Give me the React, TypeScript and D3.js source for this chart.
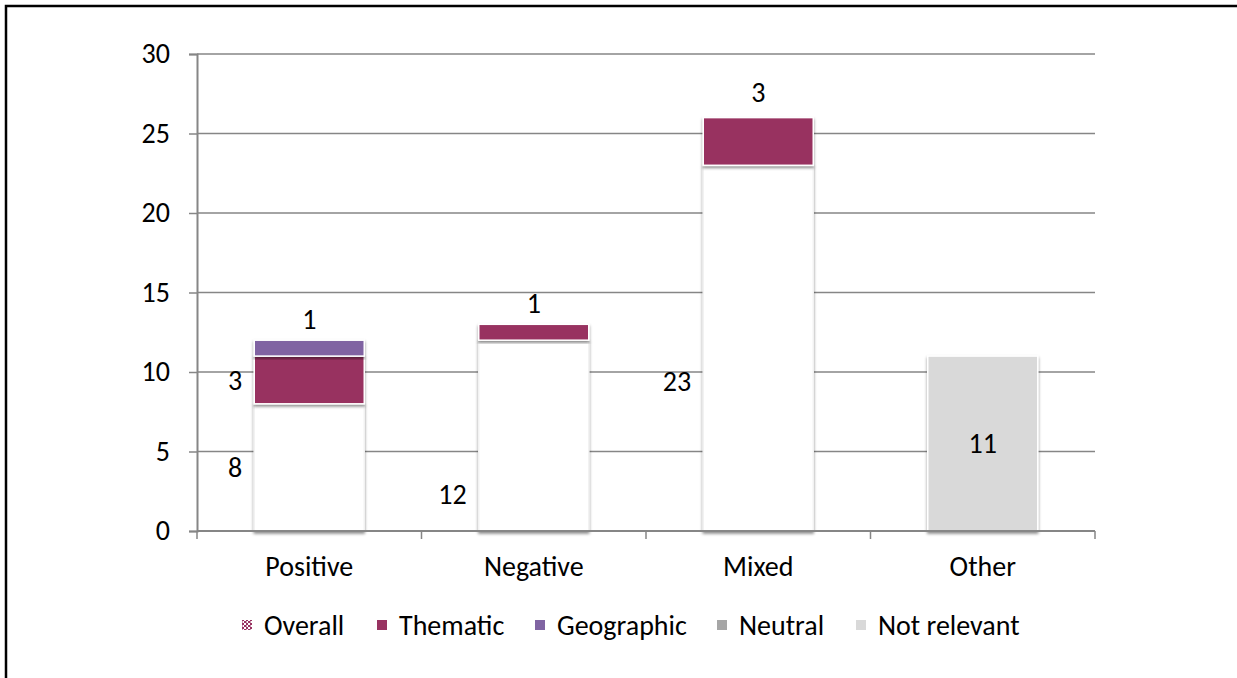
import React, { useEffect, useRef } from 'react';
import * as d3 from 'd3';

const categories = ['Positive', 'Negative', 'Mixed', 'Other'];
const seriesNames = ['Overall', 'Thematic', 'Geographic', 'Neutral', 'Not relevant'];
const overall = [8, 12, 23, 0];
const thematic = [3, 1, 3, 0];
const geographic = [1, 0, 0, 0];
const neutral = [0, 0, 0, 0];
const notRelevant = [0, 0, 0, 11];
const yTicks = [0, 5, 10, 15, 20, 25, 30];

// data labels: where Excel put them (value units on the y axis)
const labels = [
  { cat: 'Positive', text: '8', at: 4, place: 'left' },
  { cat: 'Positive', text: '3', at: 9.5, place: 'left' },
  { cat: 'Positive', text: '1', at: 13.3, place: 'center' },
  { cat: 'Negative', text: '12', at: 2.3, place: 'left' },
  { cat: 'Negative', text: '1', at: 14.3, place: 'center' },
  { cat: 'Mixed', text: '23', at: 9.45, place: 'left' },
  { cat: 'Mixed', text: '3', at: 27.6, place: 'center' },
  { cat: 'Other', text: '11', at: 5.5, place: 'center' },
];

const colors = ['#ffffff', '#983361', '#8064a2', '#a6a6a6', '#d9d9d9'];
const FONT = 'Carlito, Lato, "Open Sans", sans-serif';
const FS = 28;

const App: React.FC = () => {
  const svgRef = useRef<SVGSVGElement>(null);

  useEffect(() => {
    if (!svgRef.current) return;
    const svg = d3.select(svgRef.current);
    svg.selectAll('*').remove();

    const width = 1237;
    const height = 678;
    const margin = { top: 54, right: 142, bottom: 147, left: 197 };

    svg.attr('width', width).attr('height', height);

    const defs = svg.append('defs');
    const shadow = defs.append('filter').attr('id', 'shadow')
      .attr('x', '-20%').attr('y', '-20%').attr('width', '140%').attr('height', '140%');
    shadow.append('feDropShadow')
      .attr('dx', 0).attr('dy', 2).attr('stdDeviation', 1.8)
      .attr('flood-color', '#000').attr('flood-opacity', 0.45);

    const pat = defs.append('pattern').attr('id', 'hatch')
      .attr('width', 4).attr('height', 4).attr('patternUnits', 'userSpaceOnUse');
    pat.append('rect').attr('width', 4).attr('height', 4).attr('fill', '#fff');
    pat.append('rect').attr('width', 2.5).attr('height', 2).attr('fill', '#983361');
    pat.append('rect').attr('x', 2).attr('y', 2).attr('width', 2).attr('height', 2).attr('fill', '#983361');

    // outer frame
    svg.append('rect')
      .attr('x', 6).attr('y', 6).attr('width', 1250).attr('height', 690)
      .attr('fill', '#fff').attr('stroke', '#000').attr('stroke-width', 2.5);

    const innerW = width - margin.left - margin.right;
    const innerH = height - margin.top - margin.bottom;

    const x = d3.scaleBand<string>().domain(categories).range([margin.left, margin.left + innerW]);
    const y = d3.scaleLinear().domain([0, 30]).range([margin.top + innerH, margin.top]);
    const barW = x.bandwidth() * 0.49;
    const barX = (c: string) => (x(c) as number) + (x.bandwidth() - barW) / 2;

    // gridlines
    svg.append('g').selectAll('line').data(yTicks.filter(t => t > 0)).enter().append('line')
      .attr('x1', margin.left).attr('x2', margin.left + innerW)
      .attr('y1', d => y(d)).attr('y2', d => y(d))
      .attr('stroke', '#868686').attr('stroke-width', 1.5);

    // stacked bars
    const rows = categories.map((c, i) => ({
      cat: c,
      Overall: overall[i],
      Thematic: thematic[i],
      Geographic: geographic[i],
      Neutral: neutral[i],
      'Not relevant': notRelevant[i],
    }));
    const stack = d3.stack<any>().keys(seriesNames)(rows);

    stack.forEach((layer, si) => {
      svg.append('g').selectAll('rect')
        .data(layer.filter(d => d[1] - d[0] > 0)).enter().append('rect')
        .attr('x', d => barX(d.data.cat))
        .attr('y', d => y(d[1]))
        .attr('width', barW)
        .attr('height', d => y(d[0]) - y(d[1]))
        .attr('fill', colors[si])
        .attr('stroke', si === 0 ? '#f2f2f2' : '#fff').attr('stroke-width', 1.5)
        .attr('filter', 'url(#shadow)');
    });

    // axes
    const axisY = svg.append('g').attr('transform', `translate(${margin.left},0)`)
      .call(d3.axisLeft(y).tickValues(yTicks).tickSize(8).tickPadding(19));
    const axisX = svg.append('g').attr('transform', `translate(0,${margin.top + innerH})`)
      .call(d3.axisBottom(x).tickSize(0).tickPadding(25));
    [axisY, axisX].forEach(a => {
      a.select('.domain').attr('stroke', '#868686').attr('stroke-width', 2);
      a.selectAll('line').attr('stroke', '#868686').attr('stroke-width', 1.5);
      a.selectAll('text').attr('font-family', FONT).attr('font-size', FS).attr('fill', '#000');
    });
    axisX.select('.domain').attr('d', `M${margin.left},0H${margin.left + innerW}`);
    // category boundary ticks
    const bounds = categories.map(c => x(c) as number).concat([margin.left + innerW]);
    axisX.selectAll('.bound').data(bounds).enter().append('line')
      .attr('x1', d => d).attr('x2', d => d).attr('y1', 0).attr('y2', 8)
      .attr('stroke', '#868686').attr('stroke-width', 1.5);

    // data labels
    svg.append('g').selectAll('text').data(labels).enter().append('text')
      .attr('x', d => d.place === 'left' ? barX(d.cat) - 12 : barX(d.cat) + barW / 2)
      .attr('y', d => y(d.at))
      .attr('dy', '0.35em')
      .attr('text-anchor', d => d.place === 'left' ? 'end' : 'middle')
      .attr('font-family', FONT).attr('font-size', FS).attr('fill', '#000')
      .text(d => d.text);

    // legend
    const legendX = [242, 377, 535, 717, 856];
    const lg = svg.append('g').attr('transform', 'translate(0,625)');
    seriesNames.forEach((name, i) => {
      lg.append('rect')
        .attr('x', legendX[i]).attr('y', -5).attr('width', 10).attr('height', 10)
        .attr('fill', i === 0 ? 'url(#hatch)' : colors[i]);
      lg.append('text')
        .attr('x', legendX[i] + 22).attr('y', 0).attr('dy', '0.35em')
        .attr('font-family', FONT).attr('font-size', FS).attr('fill', '#000')
        .text(name);
    });
  }, []);

  return (
    <div style={{ position: 'absolute', left: 0, top: 0 }}>
      <svg ref={svgRef} style={{ display: 'block' }}></svg>
    </div>
  );
};

export default App;
